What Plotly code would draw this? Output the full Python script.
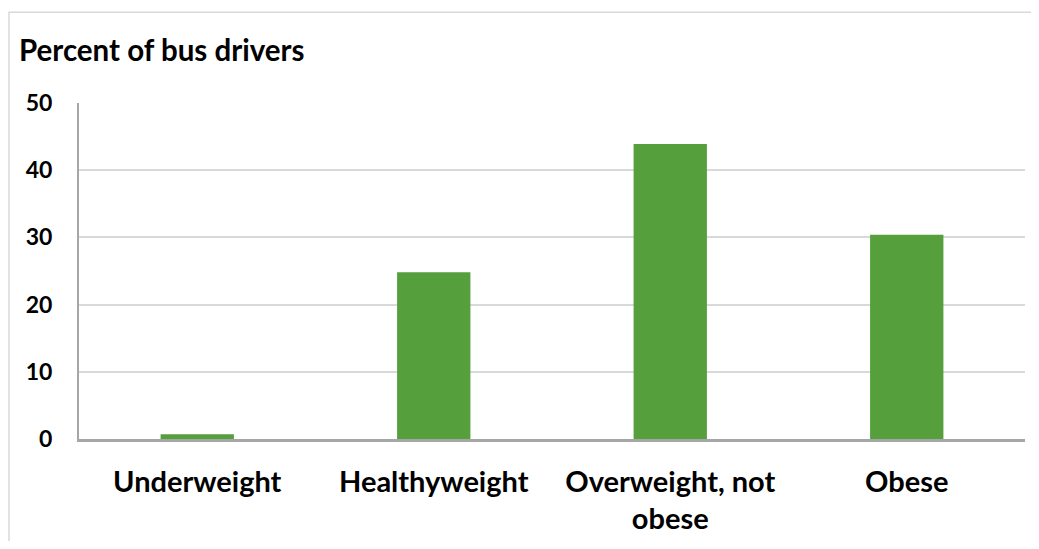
import plotly.graph_objects as go

# weight categories and share of bus drivers (%)
categories = ["Underweight", "Healthyweight", "Overweight, not<br>obese", "Obese"]
percent = [0.7, 24.8, 43.9, 30.4]
y_ticks = [0, 10, 20, 30, 40, 50]

FONT = "Lato"

fig = go.Figure(go.Bar(
    x=categories,
    y=percent,
    marker=dict(color="#55A03C", line=dict(width=0)),
))

# page has an 8px body margin, so the figure is sized to fit inside it
fig.update_layout(
    width=1023, height=533,
    margin=dict(l=71, r=6, t=95, b=99),
    paper_bgcolor="white", plot_bgcolor="white",
    bargap=0.69,
    showlegend=False,
    font=dict(family=FONT, color="black"),
)

fig.update_yaxes(
    range=[0, 50], tickvals=y_ticks,
    showgrid=True, gridcolor="#d9d9d9", gridwidth=1.5,
    showline=True, linecolor="#a6a6a6", linewidth=2,
    zeroline=False, ticks="",
    tickfont=dict(family=FONT, size=23, weight="bold"),
    ticklabelstandoff=20,
)
fig.update_xaxes(
    showline=True, linecolor="#a6a6a6", linewidth=2.5,
    ticks="", showgrid=False,
    tickfont=dict(family=FONT, size=29, weight="bold"),
    ticklabelstandoff=15,
)

fig.add_annotation(
    text="Percent of bus drivers", xref="paper", yref="paper",
    x=-0.066, y=1.16, xanchor="left", yanchor="middle",
    showarrow=False, font=dict(family=FONT, size=29.5, weight="bold"),
)

# outer frame of the chart object
fig.add_shape(
    type="rect", xref="paper", yref="paper",
    x0=-0.074, y0=-0.5, x1=1.05, y1=1.27,
    line=dict(color="#d9d9d9", width=1.5), layer="below",
)

fig.write_html("out.html")
